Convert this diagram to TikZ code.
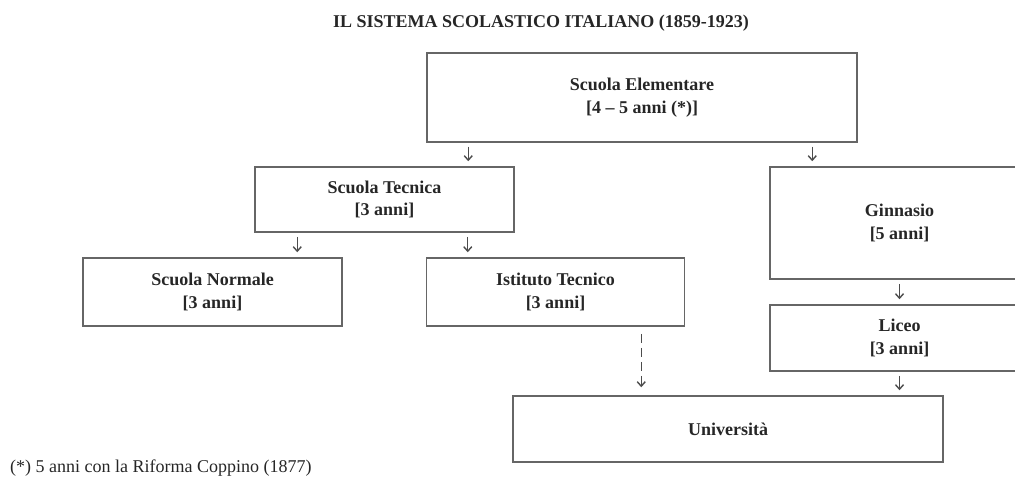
\documentclass[tikz,border=0pt]{standalone}
\usepackage{fontspec}
\setmainfont{Liberation Serif}
\usetikzlibrary{arrows.meta}

\begin{document}
\begin{tikzpicture}[x=1pt,y=-1pt,
  box/.style={draw=black!60,line width=1.5pt,inner sep=0pt,align=center,
    text=black!85,font=\bfseries\fontsize{18}{22.5}\selectfont},
  arr/.style={draw=black!70,line width=1.4pt,-{Straight Barb[length=4.5pt,width=8pt]},
    shorten <=4pt,shorten >=5pt}]
  \useasboundingbox (0,0) rectangle (1015,484);
  \clip (0,0) rectangle (1015,484);
  %
  \node[font=\bfseries\fontsize{18}{22}\selectfont,text=black!85] (title) at (541,23)
       {IL SISTEMA SCOLASTICO ITALIANO (1859-1923)};
  %
  \node[box,minimum width=430pt,minimum height=89pt] (elem) at (642,97.5)
       {Scuola Elementare\\{[4 -- 5 anni (*)]}};
  \node[box,minimum width=259pt,minimum height=65pt] (tec) at (384.5,199.5)
       {Scuola Tecnica\\{[3 anni]}};
  \node[box,minimum width=259pt,minimum height=68pt] (norm) at (212.5,292)
       {Scuola Normale\\{[3 anni]}};
  \node[box,minimum width=258pt,minimum height=68pt] (ist) at (555.5,292)
       {Istituto Tecnico\\{[3 anni]}};
  \node[box,minimum width=259pt,minimum height=112pt] (ginn) at (899.5,223)
       {Ginnasio\\{[5 anni]}};
  \node[box,minimum width=259pt,minimum height=66pt] (liceo) at (899.5,338)
       {Liceo\\{[3 anni]}};
  \node[box,minimum width=430pt,minimum height=66pt] (univ) at (728,429)
       {Università};
  %
  \draw[arr] ([xshift=42pt]elem.south west) -- ([xshift=42pt]elem.south west |- tec.north);
  \draw[arr] ([xshift=43pt]ginn.north west |- elem.south) -- ([xshift=43pt]ginn.north west);
  \draw[arr] ([xshift=43pt]tec.south west) -- ([xshift=43pt]tec.south west |- norm.north);
  \draw[arr] ([xshift=42pt]ist.north west |- tec.south) -- ([xshift=42pt]ist.north west);
  \draw[arr] (ginn.south) -- (liceo.north);
  \draw[arr] (liceo.south) -- (liceo.south |- univ.north);
  \draw[arr,dash pattern=on 9pt off 5pt,shorten <=7pt,shorten >=8pt]
       ([xshift=129pt]univ.north west |- ist.south) -- ([xshift=129pt]univ.north west);
  %
  \node[anchor=west,inner sep=0pt,font=\fontsize{18}{22}\selectfont,text=black!85] (note)
       at (10,468) {(*) 5 anni con la Riforma Coppino (1877)};
\end{tikzpicture}
\end{document}
